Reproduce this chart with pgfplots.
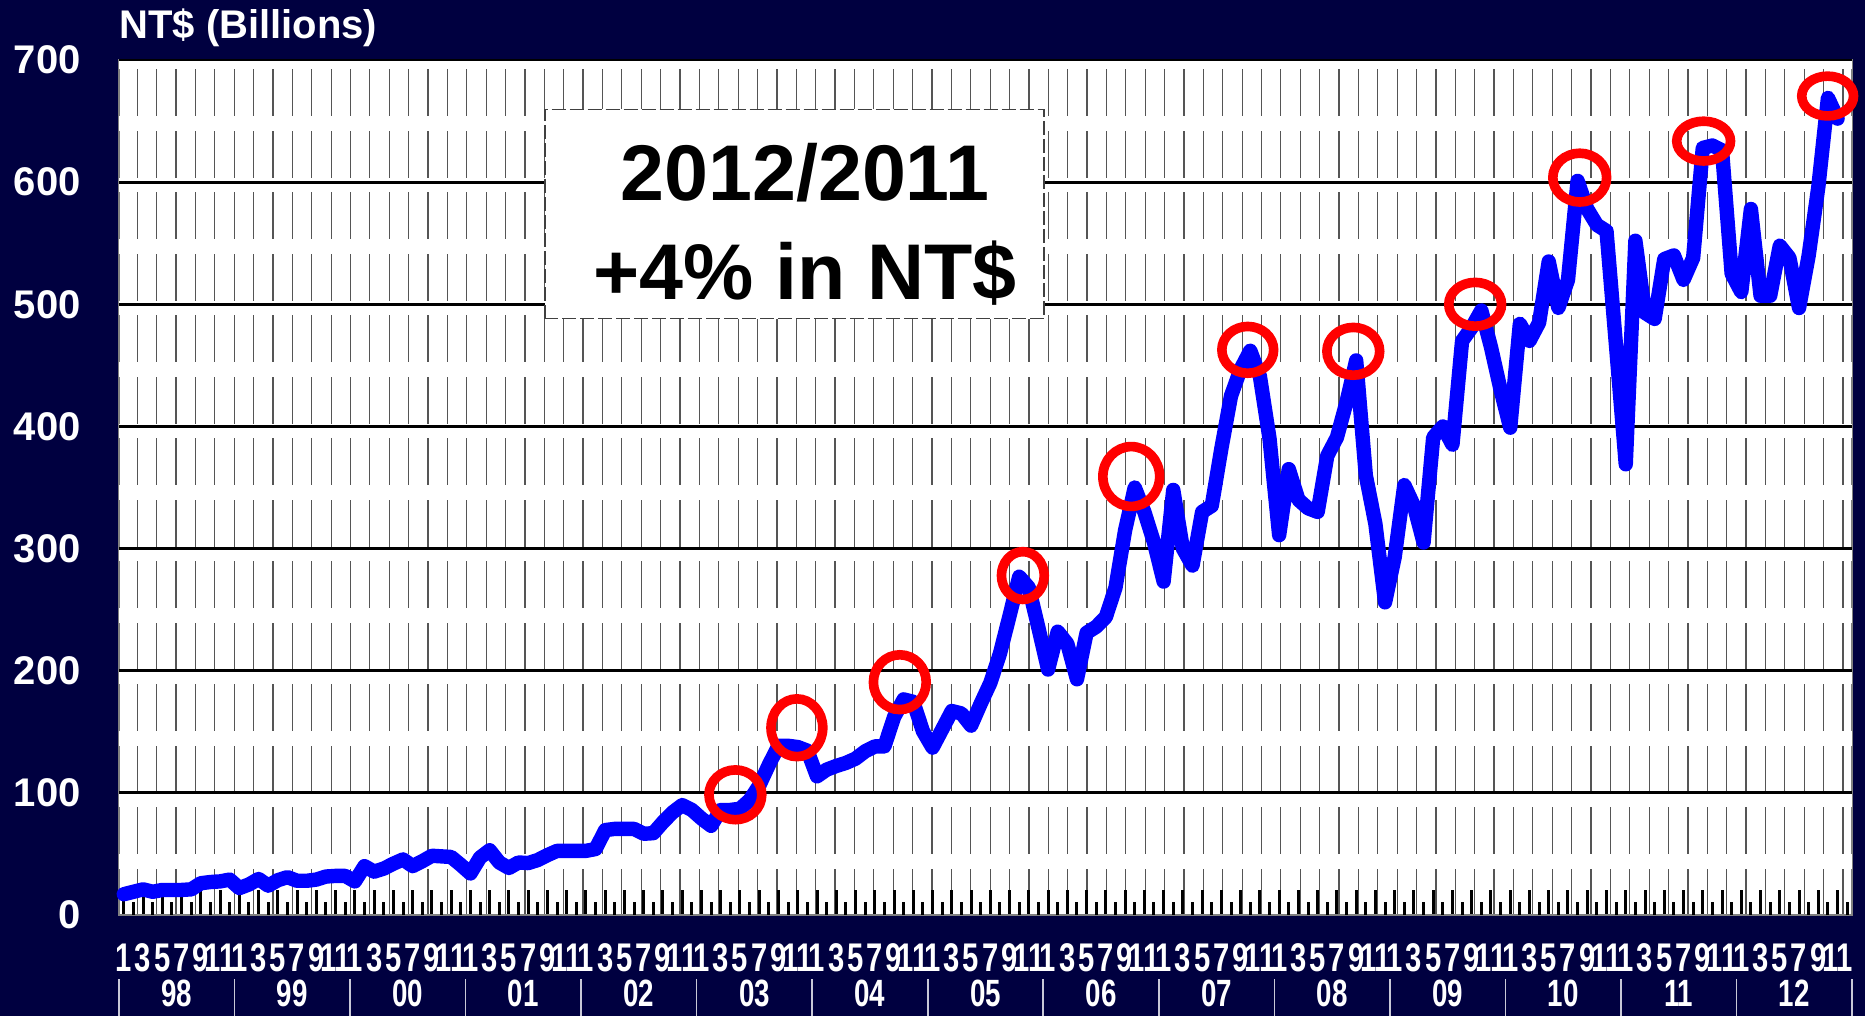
\documentclass[border=0pt]{standalone}
\usepackage{pgfplots}
\pgfplotsset{compat=1.18}
\usepackage{fontspec}
\setmainfont{Liberation Sans}
\definecolor{bgnavy}{RGB}{0,0,64}
\definecolor{gridgray}{RGB}{85,85,85}
\definecolor{sepgray}{RGB}{200,200,215}
\definecolor{lineblue}{RGB}{0,0,255}
\definecolor{ringred}{RGB}{255,0,0}
\pgfplotstableread{
m v
0 17
1 19
2 21
3 19
4 20.5
5 20.5
6 20.5
7 21
8 26
9 27
10 27.5
11 29
12 22
13 25
14 29.5
15 24
16 28.5
17 31
18 28
19 28
20 29
21 31.5
22 32
23 32
24 27.5
25 40
26 35.5
27 38
28 42
29 45.5
30 40
31 44
32 48.5
33 48
34 47.5
35 41
36 34
37 47
38 53
39 43
40 38.5
41 43
42 42.5
43 45
44 49
45 52.5
46 52.5
47 52.5
48 52.5
49 54
50 69.5
51 70.5
52 70.5
53 70.5
54 66.5
55 67
56 76
57 84
58 90
59 86
60 79
61 73
62 86
63 86
64 87
65 94
66 106
67 123
68 138.5
69 138.5
70 137.5
71 134.5
72 113.5
73 119
74 122
75 124.5
76 128
77 134
78 138
79 138
80 162
81 176.5
82 174.5
83 150.5
84 137
85 152
86 167
87 165
88 155
89 173
90 190
91 214
92 245
93 277
94 268
95 235
96 201
97 232
98 222
99 193
100 231
101 236
102 244
103 268
104 315
105 350
106 330
107 305
108 273
109 348
110 300
111 286
112 330
113 335
114 382
115 425
116 447
117 462
118 441
119 390
120 311
121 365
122 340
123 333
124 330
125 376
126 391
127 420
128 454
129 360
130 320
131 256
132 293
133 352
134 335
135 305
136 391
137 400
138 385
139 470
140 481
141 495
142 465
143 430
144 399
145 484
146 470
147 485
148 535
149 497
150 520
151 601
152 578
153 565
154 560
155 465
156 369
157 552
158 493
159 488
160 537
161 540
162 520
163 538
164 628
165 630
166 626
167 525
168 510
169 578
170 507
171 507
172 548
173 538
174 497
175 540
176 596
177 669
178 652
}\revenue
\pgfplotsset{ring/.style n args={2}{only marks, mark=o, color=ringred, line width=4.8pt, mark size=1pt,
  mark options={xscale=#1, yscale=#2, line width=4.8pt, draw=ringred}, forget plot}}
\begin{document}
\begin{tikzpicture}
\path[use as bounding box, fill=bgnavy] (0,0) rectangle (932.5pt,508pt);
\begin{axis}[
  at={(59.5pt,50.5pt)}, anchor=south west,
  scale only axis, width=866.5pt, height=427.5pt,
  xmin=-0.5, xmax=179.5, ymin=0, ymax=700,
  clip=false,
  axis background/.style={fill=white},
  axis line style={draw=gray, line width=0.8pt},
  ytick={0,100,...,700},
  ytick style={draw=none},
  yticklabel style={font=\fontsize{20}{24}\selectfont\bfseries, text=white, anchor=east, inner sep=0pt, xshift=-19pt},
  /pgf/number format/assume math mode=true,
  xtick={0,2,...,178},
  xticklabels={1,3,5,7,9,11,1,3,5,7,9,11,1,3,5,7,9,11,1,3,5,7,9,11,1,3,5,7,9,11,1,3,5,7,9,11,1,3,5,7,9,11,1,3,5,7,9,11,1,3,5,7,9,11,1,3,5,7,9,11,1,3,5,7,9,11,1,3,5,7,9,11,1,3,5,7,9,11,1,3,5,7,9,11,1,3,5,7,9,11},
  xticklabel style={font=\fontsize{20}{22}\selectfont\bfseries, text=white, anchor=center, inner sep=0pt, yshift=-21.5pt, xscale=0.73},
  tick align=inside,
  xtick pos=left,
  xtick style={black, line width=1.5pt},
  major tick length=12.5pt,
  minor xtick={1.4,3.4132,...,178.7},
  xminorgrids=true,
  minor grid style={gridgray, line width=0.6pt},
  minor tick length=0pt,
  extra x ticks={5.5,17.5,...,173.5},
  extra x tick labels={98,99,00,01,02,03,04,05,06,07,08,09,10,11,12},
  extra x tick style={major tick length=0pt, xticklabel style={yshift=-17.8pt, font=\fontsize{19}{21}\selectfont\bfseries}},
]
% breaks in the vertical grid
\addplot[white, line width=7.3pt, forget plot, unbounded coords=jump] coordinates {
(-0.5,43.6)(179.5,43.6)(0,nan)(-0.5,94)(179.5,94)(0,nan)(-0.5,144.3)(179.5,144.3)(0,nan)
(-0.5,194.7)(179.5,194.7)(0,nan)(-0.5,245)(179.5,245)(0,nan)(-0.5,295.4)(179.5,295.4)(0,nan)
(-0.5,345.8)(179.5,345.8)(0,nan)(-0.5,396.1)(179.5,396.1)(0,nan)(-0.5,446.5)(179.5,446.5)(0,nan)
(-0.5,496.8)(179.5,496.8)(0,nan)(-0.5,547.2)(179.5,547.2)(0,nan)(-0.5,597.6)(179.5,597.6)(0,nan)
(-0.5,647.9)(179.5,647.9)};
\addplot[white, line width=4.3pt, forget plot] coordinates {(-0.5,696.5)(179.5,696.5)};
% major horizontal lines
\addplot[black, line width=1.6pt, forget plot, unbounded coords=jump] coordinates {
(-0.5,100)(179.5,100)(0,nan)(-0.5,200)(179.5,200)(0,nan)(-0.5,300)(179.5,300)(0,nan)
(-0.5,400)(179.5,400)(0,nan)(-0.5,500)(179.5,500)(0,nan)(-0.5,600)(179.5,600)};
\addplot[black, line width=0.8pt, forget plot] coordinates {(-0.5,700)(179.5,700)};
% short tick bars at odd months
\addplot[ycomb, black, line width=1.5pt, mark=none, forget plot] coordinates {
(1,10.6)(3,10.6)(5,10.6)(7,10.6)(9,10.6)(11,10.6)(13,10.6)(15,10.6)(17,10.6)(19,10.6)
(21,10.6)(23,10.6)(25,10.6)(27,10.6)(29,10.6)(31,10.6)(33,10.6)(35,10.6)(37,10.6)(39,10.6)
(41,10.6)(43,10.6)(45,10.6)(47,10.6)(49,10.6)(51,10.6)(53,10.6)(55,10.6)(57,10.6)(59,10.6)
(61,10.6)(63,10.6)(65,10.6)(67,10.6)(69,10.6)(71,10.6)(73,10.6)(75,10.6)(77,10.6)(79,10.6)
(81,10.6)(83,10.6)(85,10.6)(87,10.6)(89,10.6)(91,10.6)(93,10.6)(95,10.6)(97,10.6)(99,10.6)
(101,10.6)(103,10.6)(105,10.6)(107,10.6)(109,10.6)(111,10.6)(113,10.6)(115,10.6)(117,10.6)(119,10.6)
(121,10.6)(123,10.6)(125,10.6)(127,10.6)(129,10.6)(131,10.6)(133,10.6)(135,10.6)(137,10.6)(139,10.6)
(141,10.6)(143,10.6)(145,10.6)(147,10.6)(149,10.6)(151,10.6)(153,10.6)(155,10.6)(157,10.6)(159,10.6)
(161,10.6)(163,10.6)(165,10.6)(167,10.6)(169,10.6)(171,10.6)(173,10.6)(175,10.6)(177,10.6)(179,10.6)};
% year separators below the labels
\addplot[sepgray, line width=0.8pt, forget plot, unbounded coords=jump] coordinates {
(-0.5,-52.5)(-0.5,-84)(0,nan)(11.5,-52.5)(11.5,-84)(0,nan)(23.5,-52.5)(23.5,-84)(0,nan)
(35.5,-52.5)(35.5,-84)(0,nan)(47.5,-52.5)(47.5,-84)(0,nan)(59.5,-52.5)(59.5,-84)(0,nan)
(71.5,-52.5)(71.5,-84)(0,nan)(83.5,-52.5)(83.5,-84)(0,nan)(95.5,-52.5)(95.5,-84)(0,nan)
(107.5,-52.5)(107.5,-84)(0,nan)(119.5,-52.5)(119.5,-84)(0,nan)(131.5,-52.5)(131.5,-84)(0,nan)
(143.5,-52.5)(143.5,-84)(0,nan)(155.5,-52.5)(155.5,-84)(0,nan)(167.5,-52.5)(167.5,-84)(0,nan)
(179.5,-52.5)(179.5,-84)};
% the series
\addplot[lineblue, line width=7.2pt, line join=round, line cap=round, mark=none] table[x=m, y=v] {\revenue};
% highlighted peaks
\addplot[ring={13.2}{12.45}] coordinates {(63.52,98.4)};
\addplot[ring={12.95}{14.45}] coordinates {(69.91,153.3)};
\addplot[ring={13.2}{13.7}] coordinates {(80.60,190.6)};
\addplot[ring={10.7}{11.95}] coordinates {(93.38,277.9)};
\addplot[ring={14.2}{14.95}] coordinates {(104.64,359.0)};
\addplot[ring={12.95}{11.7}] coordinates {(116.74,462.7)};
\addplot[ring={13.2}{11.95}] coordinates {(127.70,461.5)};
\addplot[ring={13.2}{10.95}] coordinates {(140.36,500.0)};
\addplot[ring={13.45}{12.2}] coordinates {(151.22,603.7)};
\addplot[ring={13.45}{9.95}] coordinates {(164.09,633.6)};
\addplot[ring={12.95}{9.95}] coordinates {(176.97,670.5)};
\end{axis}
\node[anchor=base west, inner sep=0pt, text=white, font=\fontsize{20}{24}\selectfont\bfseries] at (59.5pt,488.9pt) {NT\$ (Billions)};
\draw[black!75, line width=0.7pt, dash pattern=on 7pt off 2pt, fill=white] (272.5pt,348.6pt) rectangle (522pt,453.3pt);
\node[anchor=base, inner sep=0pt, font=\fontsize{39.5}{47}\selectfont\bfseries] at (402.5pt,407.6pt) {2012/2011};
\node[anchor=base, inner sep=0pt, font=\fontsize{39.5}{47}\selectfont\bfseries] at (402.5pt,358.4pt) {+4\% in NT\$};
\end{tikzpicture}
\end{document}
